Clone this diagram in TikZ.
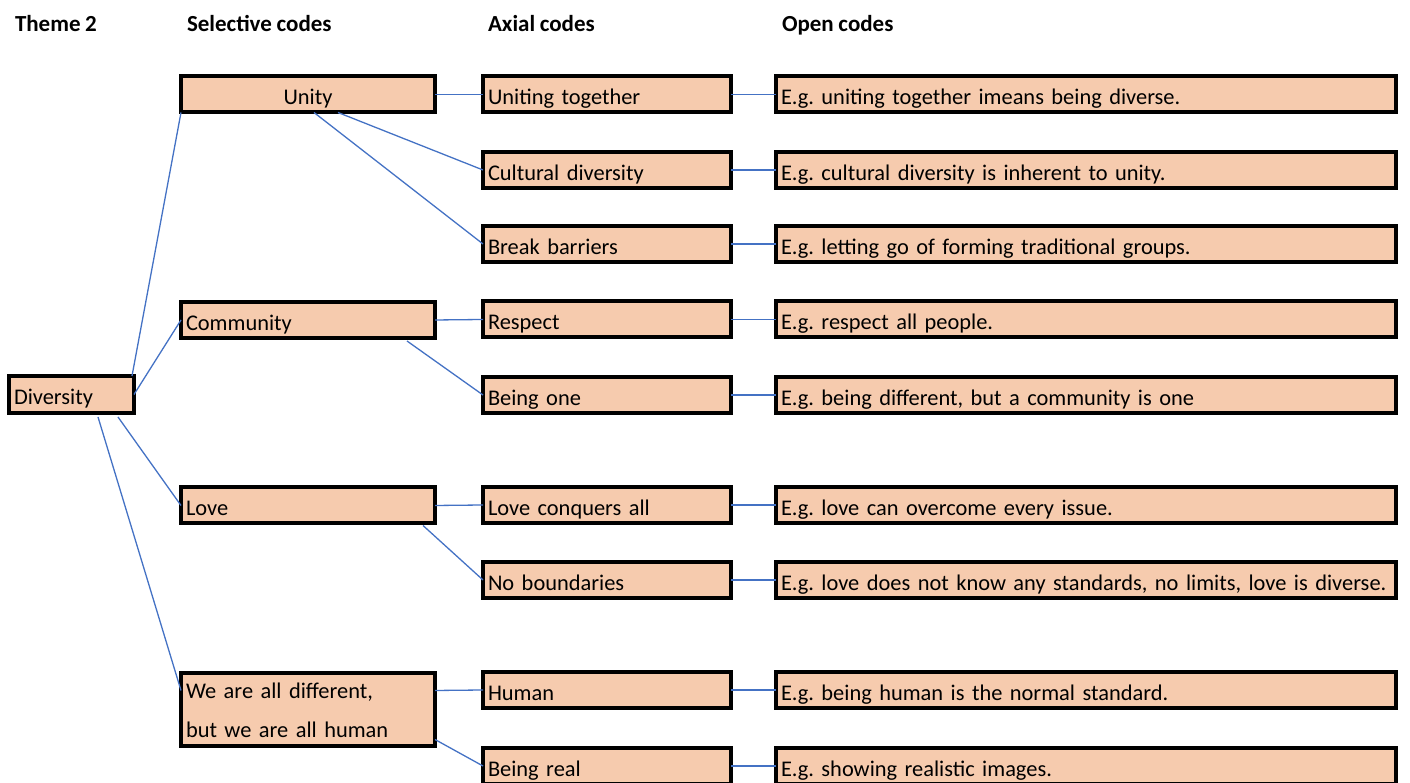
\documentclass[tikz,border=0pt]{standalone}
\usepackage{fontspec}
\setmainfont{Carlito}[WordSpace=0.9]
\frenchspacing
\begin{document}
\begin{tikzpicture}[x=1pt,y=1pt,
  code/.style={rectangle,draw=black,line width=4pt,fill=fillColor,inner xsep=5pt,inner ysep=0pt,outer sep=0pt,minimum height=36pt,text height=24pt,text depth=3pt,align=left,font=\fontsize{22.4}{28}\selectfont},
  selbox/.style={code,text width=244pt},
  axbox/.style={code,text width=238pt},
  openbox/.style={code,text width=610pt},
  head/.style={anchor=base west,inner sep=0pt,outer sep=0pt,font=\fontsize{23}{28}\selectfont\bfseries},
  link/.style={draw=linkColor,line width=1.3pt}]
\definecolor{fillColor}{RGB}{246,203,174}
\definecolor{linkColor}{RGB}{68,114,196}
\path[use as bounding box] (0,0) rectangle (1410,783);
\clip (0,0) rectangle (1410,783);

\node[head] (theme) at ( 15,751) {Theme 2};
\node[head] (selective) at (187,751) {Selective codes};
\node[head] (axial) at (488,751) {Axial codes};
\node[head] (open) at (782,751) {Open codes};

\node[code,text width=115pt,minimum height=37pt] (diversity) at ( 71.5,388.5) {Diversity};

\node[selbox,align=center] (unity) at (308,688.5) {Unity};
\node[selbox] (community) at (308,463.0) {Community};
\node[selbox] (love) at (308,277.5) {Love};
\node[selbox,minimum height=73pt,text depth=45pt,font=\fontsize{22.4}{39}\selectfont] (different) at (308, 73.5) {We are all different,\\but we are all human};

\node[axbox] (uniting) at (607,688.5) {Uniting together};
\node[axbox] (cultural) at (607,613.0) {Cultural diversity};
\node[axbox] (barriers) at (607,539.0) {Break barriers};
\node[axbox] (respect) at (607,463.5) {Respect};
\node[axbox] (beingone) at (607,388.0) {Being one};
\node[axbox] (conquers) at (607,278.0) {Love conquers all};
\node[axbox] (boundaries) at (607,203.0) {No boundaries};
\node[axbox] (human) at (607, 93.0) {Human};
\node[axbox] (real) at (607, 17.0) {Being real};

\node[openbox] (uniting-eg) at (1086,688.5) {E.g. uniting together imeans being diverse.};
\node[openbox] (cultural-eg) at (1086,613.0) {E.g. cultural diversity is inherent to unity.};
\node[openbox] (barriers-eg) at (1086,539.0) {E.g. letting go of forming traditional groups.};
\node[openbox] (respect-eg) at (1086,463.5) {E.g. respect all people.};
\node[openbox] (beingone-eg) at (1086,388.0) {E.g. being different, but a community is one};
\node[openbox] (conquers-eg) at (1086,278.0) {E.g. love can overcome every issue.};
\node[openbox] (boundaries-eg) at (1086,203.0) {E.g. love does not know any standards, no limits, love is diverse.};
\node[openbox] (human-eg) at (1086, 93.0) {E.g. being human is the normal standard.};
\node[openbox] (real-eg) at (1086, 17.0) {E.g. showing realistic images.};

\path[link] ([xshift=-2pt]diversity.north east) -- (unity.south west);
\path[link] (diversity.east) -- (community.west);
\path[link] ([xshift=-16pt,yshift=-4pt]diversity.south east) -- (love.west);
\path[link] ([xshift=-36pt,yshift=-4pt]diversity.south east) -- ([yshift=19pt]different.west);

\path[link] (unity.east) -- (uniting.west);
\path[link] ([xshift=30pt]unity.south) -- (cultural.west);
\path[link] ([xshift=6pt]unity.south) -- (barriers.west);
\path[link] (community.east) -- (respect.west);
\path[link] ([xshift=-28pt,yshift=-3pt]community.south east) -- (beingone.west);
\path[link] (love.east) -- (conquers.west);
\path[link] ([xshift=-12pt,yshift=-2pt]love.south east) -- (boundaries.west);
\path[link] ([yshift=19pt]different.east) -- (human.west);
\path[link] ([yshift=-30pt]different.east) -- (real.west);

\path[link] (uniting.east) -- (uniting-eg.west);
\path[link] (cultural.east) -- (cultural-eg.west);
\path[link] (barriers.east) -- (barriers-eg.west);
\path[link] (respect.east) -- (respect-eg.west);
\path[link] (beingone.east) -- (beingone-eg.west);
\path[link] (conquers.east) -- (conquers-eg.west);
\path[link] (boundaries.east) -- (boundaries-eg.west);
\path[link] (human.east) -- (human-eg.west);
\path[link] (real.east) -- (real-eg.west);
\end{tikzpicture}
\end{document}
